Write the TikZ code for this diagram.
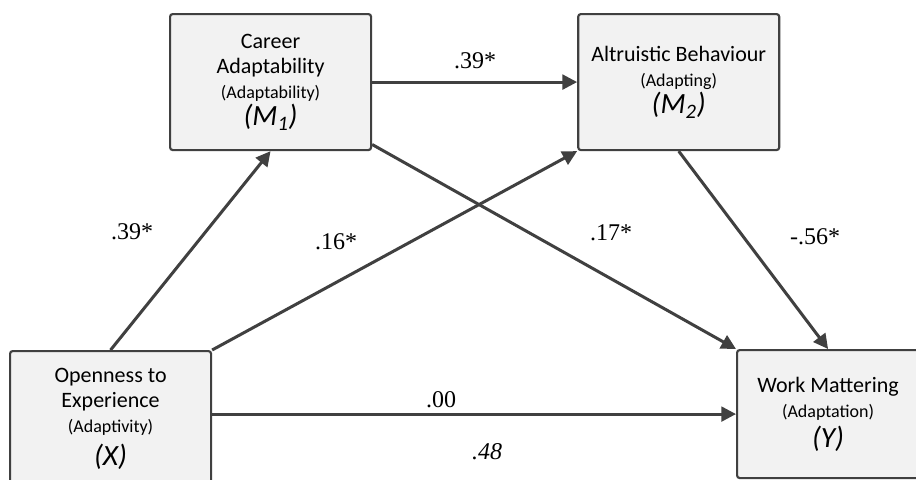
\documentclass[tikz,border=0pt]{standalone}
\usepackage{fontspec}
\setmainfont{Carlito}
\newfontfamily\coeffont{Liberation Serif}
\usepackage{xcolor}
\usetikzlibrary{arrows.meta, positioning}

\definecolor{boxfill}{HTML}{F2F2F2}
\definecolor{edgegray}{HTML}{404040}

\newcommand{\construct}[1]{{\fontsize{13.5}{16}\selectfont #1}}
\newcommand{\role}[1]{{\fontsize{22}{24}\selectfont\itshape #1}}

\begin{document}
\begin{tikzpicture}[
    x=0.75pt, y=-0.75pt,
    every node/.style={font=\fontsize{16.5}{18.75}\selectfont},
    var/.style={rectangle, draw=edgegray, fill=boxfill, rounded corners=2pt,
                minimum width=150.75pt, minimum height=102pt, align=center,
                anchor=north west, inner sep=1pt, line width=1.6pt},
    coef/.style={font=\coeffont\fontsize{18}{20}\selectfont, inner sep=0pt},
    arr/.style={-{Triangle[length=11pt, width=11pt]}, draw=edgegray, line width=2.25pt},
]
\useasboundingbox (0,0) rectangle (916,479);
\fill[white] (0,0) rectangle (916,479);
\clip (0,0) rectangle (916,479);

% constructs
\node[var] (M1) at (169,13) {Career\\Adaptability\\\construct{(Adaptability)}\\[2pt]\role{(M\textsubscript{1})}};
\node[var, right=153.75pt of M1] (M2) {Altruistic Behaviour\\\construct{(Adapting)}\\[2pt]\role{(M\textsubscript{2})}};
\node[var] (X) at (9,350) {Openness to\\Experience\\\construct{(Adaptivity)}\\[6pt]\role{(X)}};
\node[var, minimum width=136.5pt, minimum height=96pt] (Y) at (736,349) {Work Mattering\\\construct{(Adaptation)}\\[4pt]\role{(Y)}};

% paths
\draw[arr] (X.north) -- (M1.south);
\draw[arr] (X.north east) -- (M2.south west);
\draw[arr] ([yshift=5pt]M1.south east) -- (Y.north west);
\draw[arr] (M1) -- (M2);
\draw[arr] (M2.south) -- (Y.north);
\draw[arr] (Y.west -| X.east) -- (Y.west);

% coefficients
\node[coef] (a1) at (132,232) {.39*};
\node[coef] (d1) at (475,61) {.39*};
\node[coef] (a2) at (336,242) {.16*};
\node[coef] (b1) at (611,233) {.17*};
\node[coef] (b2) at (815,237) {-.56*};
\node[coef] (c) at (441,400) {.00};
\node[coef] (ct) at (487,452) {\itshape .48};

\end{tikzpicture}
\end{document}
